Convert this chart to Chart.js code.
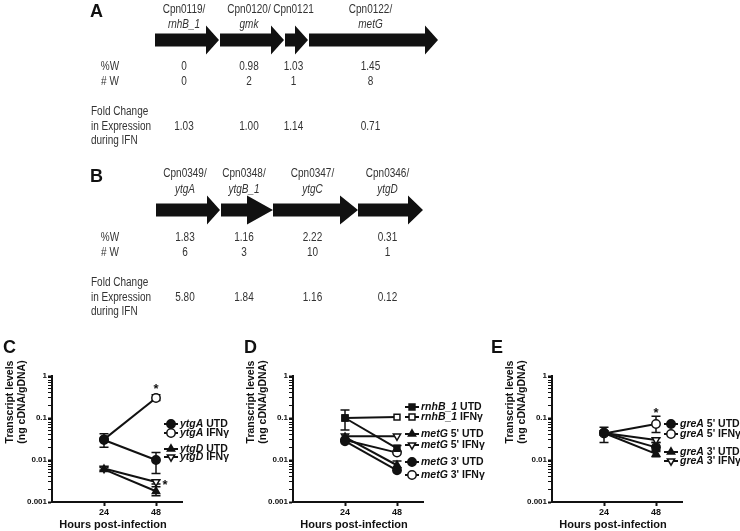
<!DOCTYPE html>
<html>
<head>
<meta charset="utf-8">
<script src="https://cdn.jsdelivr.net/npm/chart.js@4.4.0/dist/chart.umd.min.js"></script>
<style>
  html, body { margin: 0; padding: 0; background: #fff; }
  body { width: 740px; height: 531px; position: relative; overflow: hidden; }
  canvas { position: absolute; }
</style>
</head>
<body>
<canvas id="geneA" width="740" height="150" style="left:0;top:0"></canvas>
<canvas id="geneB" width="740" height="170" style="left:0;top:150px"></canvas>
<canvas id="chartC" width="250" height="206" style="left:0;top:325px"></canvas>
<canvas id="chartD" width="250" height="206" style="left:241px;top:325px"></canvas>
<canvas id="chartE" width="260" height="206" style="left:490px;top:325px"></canvas>
<script>
// operon A (rnhB_1 .. metG)
const locusA = ['Cpn0119/', 'Cpn0120/', 'Cpn0121', 'Cpn0122/']
const geneA = ['rnhB_1', 'gmk', '', 'metG']
const spanA = [[0, 64], [65, 129], [130, 153], [154, 283]]
const pctWA = [0, 0.98, 1.03, 1.45]
const numWA = [0, 2, 1, 8]
const foldA = [1.03, 1.00, 1.14, 0.71]

// operon B (ytgA .. ytgD)
const locusB = ['Cpn0349/', 'Cpn0348/', 'Cpn0347/', 'Cpn0346/']
const geneB = ['ytgA', 'ytgB_1', 'ytgC', 'ytgD']
const spanB = [[0, 64], [65, 117], [117, 202], [202, 267]]
const pctWB = [1.83, 1.16, 2.22, 0.31]
const numWB = [6, 3, 10, 1]
const foldB = [5.80, 1.84, 1.16, 0.12]

// transcript levels (ng cDNA/gDNA)
const hours = [24, 48]
const yTicks = [0.001, 0.01, 0.1, 1]

const ytgA_UTD = [0.03, 0.01]
const ytgA_IFN = [0.031, 0.3]
const ytgD_UTD = [0.006, 0.0018]
const ytgD_IFN = [0.0063, 0.003]
const ytgA_UTD_err = [[0.02, 0.042], [0.0048, 0.015]]
const ytgA_IFN_err = [null, [0.26, 0.36]]
const ytgD_UTD_err = [[0.0055, 0.0066], [0.0014, 0.0023]]
const ytgD_IFN_err = [[0.0058, 0.0069], [0.0027, 0.0034]]

const rnhB_UTD = [0.1, 0.019]
const rnhB_IFN = [0.1, 0.105]
const metG5_UTD = [0.035, 0.0075]
const metG5_IFN = [0.037, 0.037]
const metG3_UTD = [0.028, 0.0057]
const metG3_IFN = [0.03, 0.015]
const rnhB_UTD_err = [[0.052, 0.155], [0.016, 0.022]]
const metG5_UTD_err = [null, [0.0065, 0.0095]]

const greA5_UTD = [0.045, 0.02]
const greA5_IFN = [0.043, 0.072]
const greA3_UTD = [0.044, 0.014]
const greA3_IFN = [0.044, 0.03]
const greA5_UTD_err = [[0.026, 0.06], [0.017, 0.026]]
const greA5_IFN_err = [null, [0.045, 0.11]]
const greA3_UTD_err = [null, [0.012, 0.016]]
const greA3_IFN_err = [null, [0.026, 0.034]]

const SANS = '"Liberation Sans", Arial, sans-serif'

const fmt2 = v => v === 0 ? '0' : v.toFixed(2)

// the schematic uses a condensed face; squeeze the regular one instead
function narrow(ctx, text, x, y, italic) {
  ctx.save()
  ctx.font = (italic ? 'italic ' : '') + '12.5px ' + SANS
  ctx.translate(x, y)
  ctx.scale(0.8, 1)
  ctx.fillText(text, 0, 0)
  ctx.restore()
}

// draws the gene arrows on top of the (invisible) floating bars
const operonPlugin = {
  id: 'operon',
  afterDraw(chart, args, o) {
    const ctx = chart.ctx
    const xs = chart.scales.x
    ctx.save()
    ctx.fillStyle = '#111'
    chart.data.datasets.forEach((ds, i) => {
      const el = chart.getDatasetMeta(i).data[0]
      const left = Math.min(el.base, el.x)
      const right = Math.max(el.base, el.x)
      const y = el.y
      const bh = 6.5, hh = 14.5
      const hx = right - o.heads[i]
      ctx.beginPath()
      ctx.moveTo(left, y - bh)
      ctx.lineTo(hx, y - bh)
      ctx.lineTo(hx, y - hh)
      ctx.lineTo(right, y)
      ctx.lineTo(hx, y + hh)
      ctx.lineTo(hx, y + bh)
      ctx.lineTo(left, y + bh)
      ctx.closePath()
      ctx.fill()
    })

    ctx.fillStyle = '#111'
    ctx.textBaseline = 'middle'
    ctx.textAlign = 'left'
    ctx.font = 'bold 18px ' + SANS
    ctx.fillText(o.letter, o.letterX, o.rows.letter)

    ctx.fillStyle = '#333'
    ctx.textAlign = 'center'
    narrow(ctx, '%W', o.labelX, o.rows.pct)
    narrow(ctx, '# W', o.labelX, o.rows.num)
    ctx.textAlign = 'left'
    narrow(ctx, 'Fold Change', o.foldX, o.rows.fold)
    narrow(ctx, 'in Expression', o.foldX, o.rows.fold + 15)
    narrow(ctx, 'during IFN', o.foldX, o.rows.fold + 29)

    ctx.textAlign = 'center'
    o.spans.forEach((s, i) => {
      const cx = (xs.getPixelForValue(s[0]) + xs.getPixelForValue(s[1])) / 2 - 3
      narrow(ctx, o.locus[i], cx, o.rows.locus)
      narrow(ctx, fmt2(o.pctW[i]), cx, o.rows.pct)
      narrow(ctx, String(o.numW[i]), cx, o.rows.num)
      narrow(ctx, o.fold[i].toFixed(2), cx, o.rows.fold + 15)
      if (o.genes[i]) narrow(ctx, o.genes[i], cx, o.rows.gene, true)
    })
    ctx.restore()
  }
}

function operonChart(id, spans, heads, extra, padTop, padBottom, left, right) {
  return new Chart(document.getElementById(id), {
    type: 'bar',
    data: {
      labels: ['operon'],
      datasets: spans.map(s => ({
        data: [s],
        backgroundColor: 'rgba(0,0,0,0)',
        barThickness: 13,
        grouped: false
      }))
    },
    options: {
      indexAxis: 'y',
      responsive: false,
      animation: false,
      layout: { padding: { left: left, right: right, top: padTop, bottom: padBottom } },
      plugins: {
        legend: { display: false },
        tooltip: { enabled: false },
        operon: Object.assign({ spans: spans, heads: heads }, extra)
      },
      scales: {
        x: { display: false, min: 0, max: spans[spans.length - 1][1] },
        y: { display: false }
      }
    },
    plugins: [operonPlugin]
  })
}

operonChart('geneA', spanA, [13, 13, 13, 13], {
  letter: 'A', letterX: 90, labelX: 110, foldX: 91,
  locus: locusA, genes: geneA, pctW: pctWA, numW: numWA, fold: foldA,
  rows: { letter: 12, locus: 10, gene: 25, pct: 67, num: 82, fold: 112 }
}, 0, 70, 155, 302)

operonChart('geneB', spanB, [13, 26, 18, 15], {
  letter: 'B', letterX: 90, labelX: 110, foldX: 91,
  locus: locusB, genes: geneB, pctW: pctWB, numW: numWB, fold: foldB,
  rows: { letter: 27, locus: 24, gene: 40, pct: 88, num: 103, fold: 133 }
}, 0, 50, 156, 317)

// error bars, legend, titles and significance stars
const decorPlugin = {
  id: 'decor',
  beforeDatasetsDraw(chart) {
    const ctx = chart.ctx
    const xs = chart.scales.x, ys = chart.scales.y
    ctx.save()
    ctx.strokeStyle = '#111'
    ctx.lineWidth = 1.5
    chart.data.datasets.forEach(ds => {
      if (!ds.err) return
      ds.err.forEach((e, i) => {
        if (!e) return
        const x = xs.getPixelForValue(ds.data[i].x)
        const y0 = ys.getPixelForValue(e[0]), y1 = ys.getPixelForValue(e[1])
        ctx.beginPath()
        ctx.moveTo(x, y0); ctx.lineTo(x, y1)
        ctx.moveTo(x - 4.5, y0); ctx.lineTo(x + 4.5, y0)
        ctx.moveTo(x - 4.5, y1); ctx.lineTo(x + 4.5, y1)
        ctx.stroke()
      })
    })
    ctx.restore()
  },
  afterDraw(chart, args, o) {
    const ctx = chart.ctx
    const area = chart.chartArea
    const xs = chart.scales.x, ys = chart.scales.y
    ctx.save()
    ctx.fillStyle = '#111'
    ctx.textBaseline = 'middle'

    ctx.font = 'bold 18px ' + SANS
    ctx.textAlign = 'left'
    ctx.fillText(o.letter, o.letterX, 23)

    ctx.font = 'bold 11px ' + SANS
    ctx.textAlign = 'center'
    ctx.fillText('Hours post-infection', (area.left + area.right) / 2 - 4, 200)

    ctx.save()
    ctx.font = 'bold 10.5px ' + SANS
    ctx.translate(area.left - 42, o.yTitleY)
    ctx.rotate(-Math.PI / 2)
    ctx.fillText('Transcript levels', 0, 0)
    ctx.fillText('(ng cDNA/gDNA)', 0, 12.5)
    ctx.restore()

    // legend
    const mx = area.right - 11
    chart.data.datasets.forEach((ds, i) => {
      const y = o.legendRows[i]
      ctx.strokeStyle = '#111'
      ctx.lineWidth = 2
      ctx.beginPath()
      ctx.moveTo(mx - 7, y); ctx.lineTo(mx + 7, y)
      ctx.stroke()
      ctx.fillStyle = ds.pointBackgroundColor
      ctx.lineWidth = 1.5
      Chart.helpers.drawPoint(ctx, {
        pointStyle: ds.pointStyle, rotation: ds.pointRotation || 0,
        radius: 4.2, borderWidth: 1.5
      }, mx, y)
      ctx.fillStyle = '#111'
      ctx.textAlign = 'left'
      ctx.font = 'italic bold 10.5px ' + SANS
      ctx.fillText(ds.gene, mx + 9, y)
      const w = ctx.measureText(ds.gene).width
      ctx.font = 'bold 10.5px ' + SANS
      ctx.fillText(ds.rest, mx + 9 + w, y)
    })

    ctx.font = 'bold 13px ' + SANS
    ctx.textAlign = 'center'
    o.stars.forEach(s => {
      ctx.fillText('*', xs.getPixelForValue(s.x) + (s.dx || 0), ys.getPixelForValue(s.y) + 3)
    })
    ctx.restore()
  }
}

function series(gene, rest, vals, err, style, filled, rot) {
  return {
    gene: gene, rest: rest,
    data: hours.map((h, i) => ({ x: h, y: vals[i] })),
    err: err,
    borderColor: '#111', borderWidth: 2,
    pointStyle: style, pointRotation: rot || 0,
    pointRadius: 4.2, pointBorderWidth: 1.5,
    pointBorderColor: '#111',
    pointBackgroundColor: filled ? '#111' : '#fff'
  }
}

function transcriptChart(id, datasets, padLeft, width, extra) {
  return new Chart(document.getElementById(id), {
    type: 'line',
    data: { datasets: datasets },
    options: {
      responsive: false,
      animation: false,
      layout: { padding: { left: padLeft, right: width - padLeft - 52 - 130, top: 51, bottom: 0 } },
      plugins: {
        legend: { display: false },
        tooltip: { enabled: false },
        decor: extra
      },
      scales: {
        x: {
          type: 'linear', min: 0, max: 60,
          afterBuildTicks: s => { s.ticks = hours.map(v => ({ value: v })) },
          afterFit: s => { s.height = 29 },
          ticks: { color: '#111', padding: 1, font: { family: SANS, size: 9, weight: 'bold' } },
          grid: { drawOnChartArea: false, tickLength: 4, tickWidth: 2, tickColor: '#111' },
          border: { color: '#111', width: 2 }
        },
        y: {
          type: 'logarithmic', min: 0.001, max: 1,
          afterBuildTicks: s => {
            const t = []
            for (let d = 0; d < 3; d++) {
              for (let k = 1; k < 10; k++) t.push({ value: yTicks[d] * k })
            }
            t.push({ value: 1 })
            s.ticks = t
          },
          afterFit: s => { s.width = 52 },
          ticks: {
            autoSkip: false, color: '#111', padding: 1,
            font: { family: SANS, size: 8, weight: 'bold' },
            callback: v => yTicks.some(t => Math.abs(t - v) < t * 1e-6) ? String(v) : ''
          },
          grid: {
            drawOnChartArea: false, tickLength: 4, tickColor: '#111',
            tickWidth: c => (c.tick && yTicks.some(t => Math.abs(t - c.tick.value) < t * 1e-6)) ? 2 : 1
          },
          border: { color: '#111', width: 2 }
        }
      }
    },
    plugins: [decorPlugin]
  })
}

transcriptChart('chartC', [
  series('ytgA', ' UTD', ytgA_UTD, ytgA_UTD_err, 'circle', true),
  series('ytgA', ' IFN\u03b3', ytgA_IFN, ytgA_IFN_err, 'circle', false),
  series('ytgD', ' UTD', ytgD_UTD, ytgD_UTD_err, 'triangle', true),
  series('ytgD', ' IFN\u03b3', ytgD_IFN, ytgD_IFN_err, 'triangle', false, 180)
], 0, 250, {
  letter: 'C', letterX: 3, yTitleY: 77,
  legendRows: [99, 108, 124, 132],
  stars: [{ x: 48, y: 0.55 }, { x: 48, y: 0.003, dx: 9 }]
})

transcriptChart('chartD', [
  series('rnhB_1', ' UTD', rnhB_UTD, rnhB_UTD_err, 'rect', true),
  series('rnhB_1', ' IFN\u03b3', rnhB_IFN, null, 'rect', false),
  series('metG', " 5' UTD", metG5_UTD, metG5_UTD_err, 'triangle', true),
  series('metG', " 5' IFN\u03b3", metG5_IFN, null, 'triangle', false, 180),
  series('metG', " 3' UTD", metG3_UTD, null, 'circle', true),
  series('metG', " 3' IFN\u03b3", metG3_IFN, null, 'circle', false)
], 0, 250, {
  letter: 'D', letterX: 3, yTitleY: 77,
  legendRows: [82, 92, 109, 120, 137, 150],
  stars: []
})

transcriptChart('chartE', [
  series('greA', " 5' UTD", greA5_UTD, greA5_UTD_err, 'circle', true),
  series('greA', " 5' IFN\u03b3", greA5_IFN, greA5_IFN_err, 'circle', false),
  series('greA', " 3' UTD", greA3_UTD, greA3_UTD_err, 'triangle', true),
  series('greA', " 3' IFN\u03b3", greA3_IFN, greA3_IFN_err, 'triangle', false, 180)
], 10, 260, {
  letter: 'E', letterX: 1, yTitleY: 77,
  legendRows: [99, 109, 127, 136],
  stars: [{ x: 48, y: 0.15 }]
})
</script>
</body>
</html>
